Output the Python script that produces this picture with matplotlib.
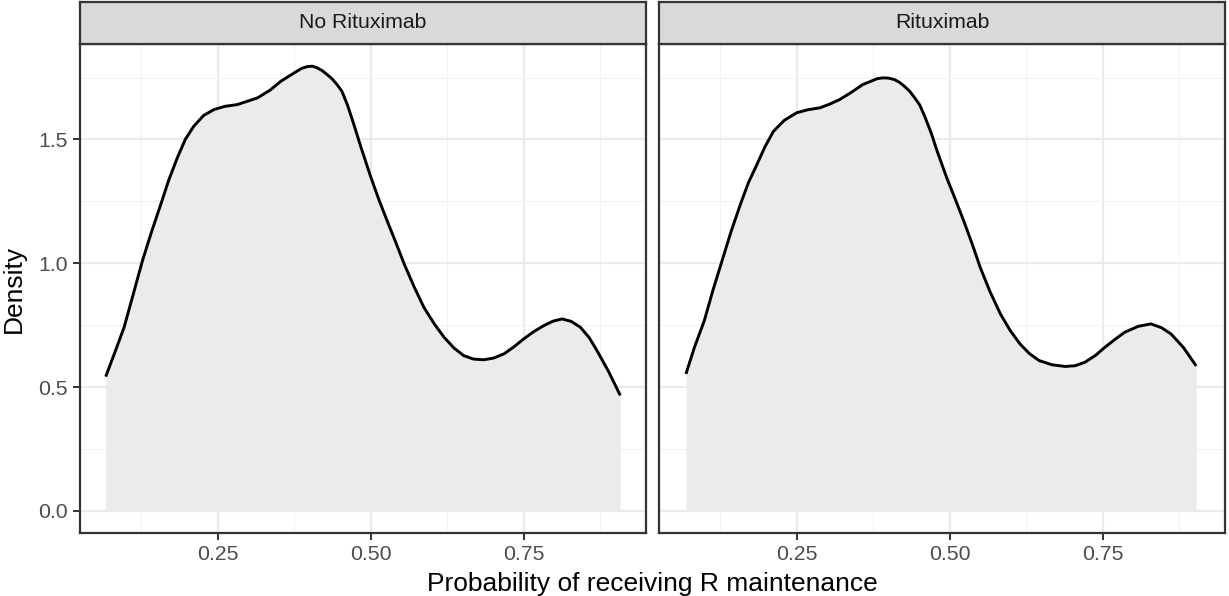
import numpy as np
import matplotlib
matplotlib.use("Agg")
import matplotlib.pyplot as plt

plt.rcParams['font.family'] = ['Liberation Sans', 'DejaVu Sans']

# facet names
panels = ["No Rituximab", "Rituximab"]

# density curves
no_ritux_x = [0.067, 0.081, 0.097, 0.112, 0.127, 0.142, 0.157, 0.170, 0.184, 0.197,
              0.211, 0.227, 0.244, 0.262, 0.282, 0.315, 0.336, 0.353, 0.375, 0.387,
              0.397, 0.405, 0.413, 0.421, 0.429, 0.437, 0.445, 0.453, 0.462, 0.472,
              0.484, 0.500, 0.513, 0.527, 0.541, 0.555, 0.571, 0.587, 0.604, 0.620,
              0.636, 0.652, 0.668, 0.685, 0.701, 0.718, 0.734, 0.750, 0.766, 0.783,
              0.798, 0.813, 0.828, 0.843, 0.857, 0.870, 0.889, 0.908]
no_ritux_dens = [0.542, 0.634, 0.741, 0.875, 1.010, 1.128, 1.238, 1.336, 1.426, 1.500,
                 1.554, 1.597, 1.621, 1.634, 1.641, 1.668, 1.700, 1.735, 1.769, 1.787,
                 1.795, 1.796, 1.789, 1.778, 1.762, 1.745, 1.722, 1.695, 1.640, 1.565,
                 1.470, 1.350, 1.260, 1.171, 1.085, 0.996, 0.905, 0.822, 0.755, 0.701,
                 0.658, 0.627, 0.613, 0.610, 0.617, 0.634, 0.662, 0.694, 0.723, 0.748,
                 0.766, 0.775, 0.765, 0.741, 0.700, 0.647, 0.562, 0.466]

ritux_x = [0.069, 0.083, 0.099, 0.113, 0.128, 0.143, 0.158, 0.171, 0.185, 0.198,
           0.212, 0.230, 0.250, 0.268, 0.288, 0.304, 0.320, 0.339, 0.358, 0.374,
           0.382, 0.391, 0.400, 0.410, 0.418, 0.426, 0.435, 0.443, 0.451, 0.459,
           0.470, 0.480, 0.496, 0.509, 0.523, 0.537, 0.550, 0.566, 0.583, 0.599,
           0.615, 0.630, 0.646, 0.667, 0.689, 0.705, 0.721, 0.738, 0.754, 0.770,
           0.786, 0.808, 0.829, 0.846, 0.862, 0.882, 0.903]
ritux_dens = [0.553, 0.661, 0.768, 0.890, 1.010, 1.130, 1.238, 1.325, 1.399, 1.470,
              1.533, 1.578, 1.608, 1.620, 1.628, 1.643, 1.661, 1.690, 1.722, 1.738,
              1.746, 1.749, 1.748, 1.742, 1.731, 1.715, 1.694, 1.668, 1.640, 1.595,
              1.525, 1.450, 1.340, 1.260, 1.171, 1.077, 0.983, 0.885, 0.795, 0.728,
              0.674, 0.636, 0.607, 0.590, 0.583, 0.586, 0.600, 0.627, 0.661, 0.692,
              0.721, 0.745, 0.755, 0.740, 0.714, 0.660, 0.585]

xticks = [0.25, 0.50, 0.75]
xtick_labels = ["0.25", "0.50", "0.75"]
xminor = [0.125, 0.375, 0.625, 0.875]
yticks = [0.0, 0.5, 1.0, 1.5]
ytick_labels = ["0.0", "0.5", "1.0", "1.5"]
yminor = [0.25, 0.75, 1.25, 1.75]

curves = [(no_ritux_x, no_ritux_dens), (ritux_x, ritux_dens)]

# shared scales, ggplot style 5% expansion
allx = no_ritux_x + ritux_x
ally = no_ritux_dens + ritux_dens + [0.0]
xpad = 0.05 * (max(allx) - min(allx))
ypad = 0.05 * (max(ally) - min(ally))
xlim = (min(allx) - xpad, max(allx) + xpad)
ylim = (min(ally) - ypad, max(ally) + ypad)

W, H = 1229, 596
fig = plt.figure(figsize=(W / 100, H / 100), dpi=100)

dark = "#333333"
lefts = [80, 659]
pw = 566
ptop, pbot = 44, 533
stop = 2

for i in range(2):
    ax = fig.add_axes([lefts[i] / W, (H - pbot) / H, pw / W, (pbot - ptop) / H])
    x, d = curves[i]
    ax.fill_between(x, 0, d, color="#EBEBEB", lw=0, zorder=1)
    ax.plot(x, d, color="black", lw=2.1, solid_joinstyle="round",
            solid_capstyle="butt", zorder=3)
    ax.set_xlim(xlim)
    ax.set_ylim(ylim)
    ax.set_xticks(xticks)
    ax.set_xticklabels(xtick_labels)
    ax.set_xticks(xminor, minor=True)
    ax.set_yticks(yticks)
    ax.set_yticks(yminor, minor=True)
    if i == 0:
        ax.set_yticklabels(ytick_labels)
    else:
        ax.tick_params(axis="y", which="major", left=False, labelleft=False)
    ax.grid(which="major", color="#EBEBEB", lw=1.6, zorder=0)
    ax.grid(which="minor", color="#F2F2F2", lw=0.8, zorder=0)
    ax.set_axisbelow(True)
    ax.tick_params(which="major", length=5, width=1.4, color=dark,
                   labelsize=15.3, labelcolor="#4D4D4D", pad=4)
    ax.tick_params(which="minor", length=0)
    for s in ax.spines.values():
        s.set_color(dark)
        s.set_linewidth(1.6)

    # facet strip
    sax = fig.add_axes([lefts[i] / W, (H - ptop) / H, pw / W, (ptop - stop) / H])
    sax.set_facecolor("#D9D9D9")
    sax.set_xticks([])
    sax.set_yticks([])
    for s in sax.spines.values():
        s.set_color(dark)
        s.set_linewidth(1.6)
    sax.text(0.5, 0.5, panels[i], ha="center", va="center", fontsize=15.3,
             color="#1A1A1A", transform=sax.transAxes)

fig.text((lefts[0] + lefts[1] + pw) / 2 / W, 1 - 591 / H,
         "Probability of receiving R maintenance", ha="center", va="baseline",
         fontsize=19)
fig.text(14 / W, 1 - ((ptop + pbot) / 2) / H, "Density", rotation=90,
         ha="center", va="center", fontsize=19)

fig.savefig("out.png", dpi=100)
